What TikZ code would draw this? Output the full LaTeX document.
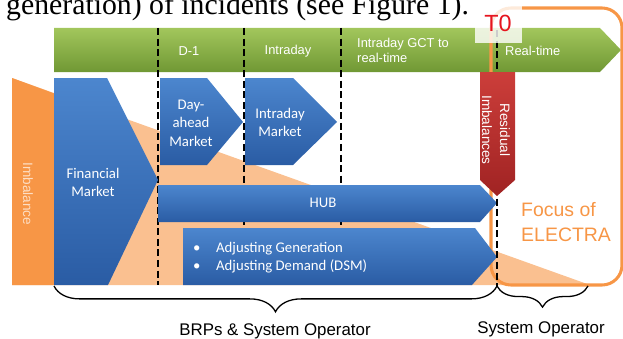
\documentclass[tikz,border=0pt]{standalone}
\usepackage{fontspec}
\setmainfont{Liberation Serif}
\newfontfamily\arialfont{Liberation Sans}
\newfontfamily\calfont{Carlito}
\usetikzlibrary{decorations.pathreplacing}

\definecolor{barGreenTop}{RGB}{162,198,92}
\definecolor{barGreenBot}{RGB}{112,152,52}
\definecolor{mktBlueTop}{RGB}{76,134,206}
\definecolor{mktBlueBot}{RGB}{42,92,164}
\definecolor{resRedTop}{RGB}{204,62,58}
\definecolor{resRedBot}{RGB}{160,35,35}
\definecolor{imbOrange}{RGB}{247,150,70}
\definecolor{imbPeach}{RGB}{250,192,144}
\definecolor{imbText}{RGB}{253,222,196}
\definecolor{tzeroRed}{RGB}{230,20,30}

\begin{document}
\begin{tikzpicture}[x=0.03cm, y=-0.03cm,
    mkt/.style={top color=mktBlueTop, bottom color=mktBlueBot, draw=none},
    mkttext/.style={text=white, font=\calfont\fontsize{12.6}{15.8}\selectfont, align=center, inner sep=0pt},
    phase/.style={text=white, font=\arialfont\fontsize{11}{12.8}\selectfont, inner sep=0pt},
    gate/.style={black, line width=1.3pt, dash pattern=on 6pt off 3pt},
    bracelabel/.style={font=\arialfont\fontsize{14.4}{16}\selectfont, inner sep=0pt}]
    % Page frame, the caption above is cut off
    \useasboundingbox (0,0) rectangle (623,338);
    \clip (0,0) rectangle (623,338);
    \node[anchor=base west, inner sep=0pt, font=\fontsize{25.4}{28}\selectfont] (caption) at (6,15) {generation) of incidents (see Figure 1).};

    % Draw the imbalance wedge
    \fill[imbPeach] (12,78) -- (590,285) -- (12,285) -- cycle;
    \fill[imbOrange] (12,78) -- (54,93.4) -- (54,285) -- (12,285) -- cycle;
    \node[rotate=-90, text=imbText, font=\arialfont\fontsize{11.6}{14}\selectfont, inner sep=0pt] (imb) at (28,194) {Imbalance};

    % Draw the time line
    \shade[top color=barGreenTop, bottom color=barGreenBot] (54,28) -- (600,28) -- (621,50) -- (600,72) -- (54,72) -- cycle;
    \node[phase] (dayb) at (189,51) {D-1};
    \node[phase] (intra) at (288,51) {Intraday};
    \node[phase, anchor=west, align=left] (gct) at (357,50.5) {Intraday GCT to\\real-time};
    \node[phase, anchor=west] (rt) at (505,51) {Real-time};

    % Focus frame
    \draw[imbOrange, line width=2.6pt, rounded corners=17pt] (491,8) rectangle (622,285);

    % Draw the gate lines
    \foreach \gx in {158,244,341} {
        \draw[gate] (\gx,28) -- (\gx,285);
    }

    % Draw the markets
    \shade[mkt] (54,78) -- (107,78) -- (158,180) -- (108,285) -- (54,285) -- cycle;
    \node[mkttext] (fin) at (93,182.5) {Financial\\Market};
    \shade[mkt] (160,78) -- (207,78) -- (243,122) -- (207,165) -- (160,165) -- cycle;
    \node[mkttext] (dam) at (191,123) {Day-\\ahead\\Market};
    \shade[mkt] (245,78) -- (293,78) -- (337,122) -- (293,165) -- (245,165) -- cycle;
    \node[mkttext] (idm) at (280,122.5) {Intraday\\Market};
    \shade[mkt] (158,185) -- (480,185) -- (497,203) -- (480,222) -- (158,222) -- cycle;
    \node[mkttext] (hub) at (323,203) {HUB};
    \shade[mkt] (183,228) -- (475,228) -- (497,257) -- (472,285) -- (183,285) -- cycle;
    \node[mkttext, anchor=west, align=left] (adj) at (193,257.5) {\makebox[19.6pt][l]{\textbullet}Adjusting Generation\\\makebox[19.6pt][l]{\textbullet}Adjusting Demand (DSM)};

    % T0 line and its label
    \draw[gate] (497,30) -- (497,287);
    \fill[white, opacity=0.8] (475,4) rectangle (522,43);
    \node[text=tzeroRed, font=\arialfont\fontsize{20}{22}\selectfont, inner sep=0pt] (tzero) at (498,23.5) {T0};

    % Residual imbalances
    \shade[top color=resRedTop, bottom color=resRedBot] (480,72) -- (515,72) -- (515,180) -- (497,196) -- (480,180) -- cycle;
    \node[rotate=-90, text=white, font=\arialfont\fontsize{11.6}{15.3}\selectfont, align=center, inner sep=0pt] (resid) at (496,130) {Residual\\Imbalances};

    \node[anchor=west, align=left, text=imbOrange, font=\arialfont\fontsize{16.6}{21.3}\selectfont, inner sep=0pt] (focus) at (521,222) {Focus of\\ELECTRA};

    % Braces and who acts
    \coordinate (brpL) at (54,286);
    \coordinate (gateB) at (497,286);
    \coordinate (soR) at (588,286);
    \draw[line width=1.1pt, decorate, decoration={brace, mirror, amplitude=22pt}] (brpL) -- (gateB);
    \draw[line width=1.1pt, decorate, decoration={brace, mirror, amplitude=18pt}] (gateB) -- (soR);
    \node[bracelabel] (brp) at (275,331) {BRPs \& System Operator};
    \node[bracelabel] (so) at (541,329) {System Operator};
\end{tikzpicture}
\end{document}
